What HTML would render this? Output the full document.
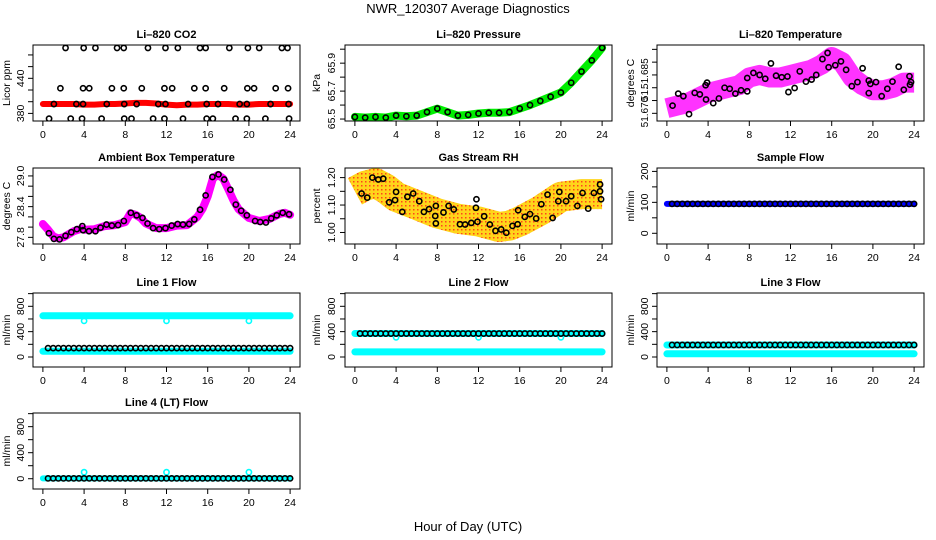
<!DOCTYPE html>
<html><head><meta charset="utf-8"><style>
html,body{margin:0;padding:0;background:#fff;}
svg{display:block;font-family:"Liberation Sans",Arial,sans-serif;}
</style></head><body>
<svg id="chart" width="936" height="540" viewBox="0 0 936 540" xmlns="http://www.w3.org/2000/svg">
<text x="468" y="13" font-size="13" text-anchor="middle">NWR_120307  Average Diagnostics</text>
<text x="468" y="531" font-size="13" text-anchor="middle">Hour of Day (UTC)</text>
<defs>
<pattern id="rhpat" width="4" height="4" patternUnits="userSpaceOnUse"><rect width="4" height="4" fill="#ffd000"/><rect x="1" y="1" width="1.5" height="1.5" fill="#ff3000"/></pattern>
</defs>
</svg>
<script>
// ---------- data ----------
const bandHours=[0,1,2,3,4,5,6,7,8,9,10,11,12,13,14,15,16,17,18,19,20,21,22,23,24];
const halfHours=[0.5,1,1.5,2,2.5,3,3.5,4,4.5,5,5.5,6,6.5,7,7.5,8,8.5,9,9.5,10,10.5,11,11.5,12,12.5,13,13.5,14,14.5,15,15.5,16,16.5,17,17.5,18,18.5,19,19.5,20,20.5,21,21.5,22,22.5,23,23.5,24];
const xTicks=[0,4,8,12,16,20,24];

const co2Band=[396,396,396,396,395,395,396,396,397,398,398,397,395,394,395,395,396,396,396,395,395,396,396,396,396];
const co2TopH=[2.2,3.96,5.1,7.2,7.85,10.2,11.9,13.1,15.25,15.8,18.1,19.9,21.0,23.2,23.75];
const co2TopV=[492,492,492,492,492,492,492,492,492,492,492,492,492,492,492];
const co2MidH=[1.7,3.9,4.5,6.7,7.85,9.6,11.8,12.55,14.7,15.8,17.6,19.85,20.5,22.6,23.8];
const co2MidV=[423,423,423,423,423,423,423,423,423,423,423,423,423,423,423];
const co2BandH=[1.07,3.25,3.9,6.2,7.9,9.1,11.2,11.9,14.1,15.9,17.0,19.1,19.8,22.1,23.85];
const co2BandV=[396,396,396,396,396,396,396,396,396,396,396,396,396,396,396];
const co2LowH=[0.6,2.7,3.8,5.7,7.9,8.6,10.7,11.8,13.6,15.9,16.5,18.7,19.8,21.6,23.9];
const co2LowV=[371,371,371,371,371,371,371,371,371,371,371,371,371,371,371];

const pressure=[65.515,65.51,65.515,65.51,65.525,65.52,65.525,65.55,65.575,65.55,65.525,65.53,65.54,65.545,65.545,65.55,65.575,65.6,65.63,65.66,65.69,65.76,65.84,65.92,66.01];

const liTempBand=[51.672,51.673,51.674,51.676,51.678,51.679,51.680,51.681,51.684,51.685,51.684,51.684,51.685,51.686,51.687,51.689,51.692,51.690,51.684,51.681,51.679,51.679,51.680,51.682,51.682];
const liTempH=[0.55,1.1,1.6,2.15,2.7,3.2,3.76,3.8,3.9,4.5,5.05,5.6,6.1,6.65,7.2,7.8,7.8,8.4,9.0,9.55,10.1,10.6,11.15,11.7,11.8,12.4,12.9,13.5,14.05,14.5,15.1,15.6,15.7,16.35,16.9,17.4,17.95,18.5,19.0,19.6,19.6,19.75,20.3,20.85,21.4,21.9,22.5,23.0,23.55,23.6,23.7];
const liTempV=[51.673,51.6777,51.6767,51.6697,51.678,51.6774,51.681,51.6754,51.682,51.674,51.6758,51.680,51.6796,51.6777,51.679,51.6786,51.6838,51.6858,51.685,51.6835,51.6895,51.6847,51.6841,51.6844,51.6783,51.6799,51.6864,51.6824,51.6832,51.685,51.6912,51.6936,51.688,51.6888,51.6903,51.687,51.6806,51.6822,51.6876,51.6828,51.6779,51.6815,51.6822,51.6767,51.6796,51.6824,51.6882,51.6792,51.6845,51.6812,51.6822];

const ambBandH=[0,0.5,1,1.5,2,3,3.8,4,5,6,7,8,8.5,9,9.5,10,11,12,13,14,15,15.5,16,16.5,17,17.5,18,18.5,19,20,21,22,23,23.5,24];
const ambBandV=[28.06,27.95,27.82,27.78,27.8,27.92,27.97,27.95,27.96,28.02,28.04,28.1,28.27,28.24,28.18,28.07,27.98,27.98,28.03,28.04,28.2,28.36,28.6,28.95,29.02,28.95,28.74,28.52,28.35,28.18,28.12,28.16,28.26,28.28,28.24];
const ambH=[0.58,1.07,1.62,2.2,2.76,3.3,3.83,3.9,4.48,5.1,5.6,6.17,6.7,7.3,7.86,8.54,9.1,9.67,10.16,10.7,11.3,11.9,12.5,13.08,13.6,14.2,14.7,15.26,15.8,16.46,17.05,17.6,18.2,18.73,19.25,19.8,20.6,21.1,21.65,22.17,22.7,23.28,23.9];
const ambV=[27.88,27.77,27.76,27.83,27.9,27.96,28.02,27.94,27.92,27.92,27.99,28.05,28.03,28.04,28.12,28.28,28.23,28.18,28.07,27.98,27.96,27.98,28.03,28.06,28.05,28.06,28.15,28.34,28.62,28.98,29.03,28.93,28.73,28.44,28.32,28.23,28.12,28.1,28.09,28.17,28.23,28.28,28.25];

const rhBandH=[0,1,2,3,4,6,8,10,12,13,14,15,16,18,20,22,24];
const rhBandV=[1.15,1.17,1.18,1.16,1.13,1.10,1.07,1.05,1.04,1.03,1.02,1.025,1.04,1.08,1.13,1.14,1.14];
const rhH=[0.65,1.2,1.7,2.27,2.75,3.33,3.9,4.0,4.6,5.1,5.66,6.25,6.7,7.2,7.8,7.86,7.86,8.6,9.1,9.6,10.2,10.7,11.3,11.75,11.8,11.9,12.55,13.1,13.65,14.2,14.7,15.3,15.8,15.85,16.5,17.0,17.6,18.1,18.7,19.2,19.75,19.85,20.5,21.0,21.6,22.1,22.65,23.2,23.8,23.8,23.9];
const rhV=[1.142,1.127,1.20,1.193,1.196,1.11,1.118,1.148,1.075,1.13,1.142,1.114,1.075,1.085,1.06,1.097,1.033,1.073,1.097,1.084,1.03,1.029,1.035,1.09,1.121,1.039,1.059,1.029,1.006,1.011,0.999,1.024,1.03,1.081,1.057,1.067,1.051,1.103,1.138,1.053,1.114,1.148,1.114,1.132,1.097,1.144,1.087,1.144,1.15,1.175,1.121];

const sampleBand=[95,95];
const sampleBlack=[95,95,95,95,95,95,95,95,95,95,95,95,95,95,95,95,95,95,95,95,95,95,95,95,95,95,95,95,95,95,95,95,95,95,95,95,95,95,95,95,95,95,95,95,95,95,95,95];

const line1Upper=[650,650];
const line1Lower=[90,90];
const line1Black=[140,140,140,140,140,140,140,140,140,140,140,140,140,140,140,140,140,140,140,140,140,140,140,140,140,140,140,140,140,140,140,140,140,140,140,140,140,140,140,140,140,140,140,140,140,140,140,140];
const line2Upper=[370,370];
const line2Lower=[80,80];
const line2Black=[370,370,370,370,370,370,370,370,370,370,370,370,370,370,370,370,370,370,370,370,370,370,370,370,370,370,370,370,370,370,370,370,370,370,370,370,370,370,370,370,370,370,370,370,370,370,370,370];
const line3Upper=[190,190];
const line3Lower=[50,50];
const line3Black=[190,190,190,190,190,190,190,190,190,190,190,190,190,190,190,190,190,190,190,190,190,190,190,190,190,190,190,190,190,190,190,190,190,190,190,190,190,190,190,190,190,190,190,190,190,190,190,190];
const line4Band=[5,5];
const line4Black=[5,5,5,5,5,5,5,5,5,5,5,5,5,5,5,5,5,5,5,5,5,5,5,5,5,5,5,5,5,5,5,5,5,5,5,5,5,5,5,5,5,5,5,5,5,5,5,5];
const spikeHours=[4,12,20];
const line1Spikes=[570,570,570];
const line2Spikes=[310,310,310];
const line4Spikes=[100,100,100];
const bandEnds=[0,24];

// ---------- drawing ----------
const NS='http://www.w3.org/2000/svg';
const svg=document.getElementById('chart');
function add(parent,tag,attrs,name){
  const el=document.createElementNS(NS,tag);
  for(const k in attrs) el.setAttribute(k,attrs[k]);
  
  
  parent.appendChild(el);
  return el;
}
const cols=[{l:33,r:300,yt:10,yl:20},{l:345,r:612,yt:320,yl:331},{l:657,r:924,yt:634,yl:644}];
const rows=[{t:45,b:121},{t:168,b:244},{t:293,b:367},{t:413,b:489}];

function panel(o){
  const c=cols[o.col], rw=rows[o.row];
  const g=add(svg,'g',{},o.name+'-panel');
  const sx=v=>c.l+(v+0.96)/25.92*(c.r-c.l);
  const sy=v=>rw.b-(v-o.ymin)/(o.ymax-o.ymin)*(rw.b-rw.t);
  const t=add(g,'text',{x:(c.l+c.r)/2,y:rw.t-7,'font-size':11,'font-weight':'bold','text-anchor':'middle'},o.name+'-title');
  t.textContent=o.title;
  const yt=add(g,'text',{transform:`translate(${c.yt},${(rw.t+rw.b)/2}) rotate(-90)`,'font-size':10.5,'text-anchor':'middle'},o.name+'-y-axis-title');
  yt.textContent=o.ylab;
  const clipId=o.name+'-clip';
  const cp=add(g,'clipPath',{id:clipId},o.name+'-clip-path');
  add(cp,'rect',{x:c.l,y:rw.t,width:c.r-c.l,height:rw.b-rw.t},o.name+'-clip-rect');
  const marks=add(g,'g',{'clip-path':`url(#${clipId})`},o.name+'-marks');
  o.draw(marks,sx,sy);
  add(g,'rect',{x:c.l,y:rw.t,width:c.r-c.l,height:rw.b-rw.t,fill:'none',stroke:'#000','stroke-width':1},o.name+'-plot-box');
  xTicks.forEach(v=>{
    add(g,'line',{x1:sx(v),x2:sx(v),y1:rw.b,y2:rw.b+5,stroke:'#000'},o.name+'-x-tick');
    const tl=add(g,'text',{x:sx(v),y:rw.b+17,'font-size':10.5,'text-anchor':'middle'},o.name+'-x-tick-label');
    tl.textContent=v;
  });
  o.ticks.forEach(v=>{
    add(g,'line',{x1:c.l-5,x2:c.l,y1:sy(v),y2:sy(v),stroke:'#000'},o.name+'-y-tick');
  });
  o.labels.forEach((s,i)=>{
    const tl=add(g,'text',{transform:`translate(${c.yl+4},${sy(o.labelVals[i])}) rotate(-90)`,'font-size':o.labelSize||10.5,'text-anchor':'middle'},o.name+'-y-tick-label');
    tl.textContent=s;
  });
}
function band(p,sx,sy,H,V,color,w,name,op,cap){
  const pts=H.map((h,i)=>sx(h).toFixed(1)+','+sy(V[i]).toFixed(1)).join(' ');
  add(p,'polyline',{points:pts,fill:'none',stroke:color,'stroke-width':w,'stroke-linecap':cap||'round','stroke-linejoin':'round',opacity:op||1},name);
}
function circles(p,sx,sy,H,V,color,name,r){
  H.forEach((h,i)=>{
    add(p,'circle',{cx:sx(h),cy:sy(V[i]),r:r||2.6,fill:'none',stroke:color,'stroke-width':1.6},name);
  });
}

panel({name:'co2',title:'Li–820 CO2',ylab:'Licor ppm',col:0,row:0,ymin:367,ymax:497,ticks:[380,400,420,440,460,480],labels:['380','440'],labelVals:[380,440],
 draw:(p,sx,sy)=>{band(p,sx,sy,bandHours,co2Band,'#ff0000',6,'co2-band');
  circles(p,sx,sy,co2TopH,co2TopV,'#000','co2-point');circles(p,sx,sy,co2MidH,co2MidV,'#000','co2-point');
  circles(p,sx,sy,co2BandH,co2BandV,'#000','co2-point');circles(p,sx,sy,co2LowH,co2LowV,'#000','co2-point');}});
panel({name:'pressure',title:'Li–820 Pressure',ylab:'kPa',col:1,row:0,ymin:65.486,ymax:66.03,ticks:[65.5,65.6,65.7,65.8,65.9,66.0],labels:['65.5','65.7','65.9'],labelVals:[65.5,65.7,65.9],
 draw:(p,sx,sy)=>{band(p,sx,sy,bandHours,pressure,'#00ee00',8,'pressure-band');circles(p,sx,sy,bandHours,pressure,'#000','pressure-point');}});
panel({name:'li-temp',title:'Li–820 Temperature',ylab:'degrees C',col:2,row:0,ymin:51.667,ymax:51.6967,ticks:[51.670,51.675,51.680,51.685,51.690,51.695],labels:['51.670','51.','51.685'],labelVals:[51.6705,51.6775,51.6855],labelSize:10,
 draw:(p,sx,sy)=>{band(p,sx,sy,bandHours,liTempBand,'#ff00ff',20,'li-temp-cloud',0.8,'butt');circles(p,sx,sy,liTempH,liTempV,'#000','li-temp-point');}});
panel({name:'ambient',title:'Ambient Box Temperature',ylab:'degrees C',col:0,row:1,ymin:27.67,ymax:29.155,ticks:[27.8,28.0,28.2,28.4,28.6,28.8,29.0],labels:['27.8','28.4','29.0'],labelVals:[27.8,28.4,29.0],
 draw:(p,sx,sy)=>{band(p,sx,sy,ambBandH,ambBandV,'#ff00ff',8,'ambient-band');circles(p,sx,sy,ambH,ambV,'#000','ambient-point');}});
panel({name:'rh',title:'Gas Stream RH',ylab:'percent',col:1,row:1,ymin:0.958,ymax:1.235,ticks:[1.00,1.05,1.10,1.15,1.20],labels:['1.00','1.10','1.20'],labelVals:[1.00,1.10,1.20],
 draw:(p,sx,sy)=>{band(p,sx,sy,rhBandH,rhBandV,'url(#rhpat)',30,'rh-cloud',0.9,'butt');circles(p,sx,sy,rhH,rhV,'#000','rh-point');}});
panel({name:'sample-flow',title:'Sample Flow',ylab:'ml/min',col:2,row:1,ymin:-34.6,ymax:211,ticks:[0,50,100,150,200],labels:['0','100','200'],labelVals:[0,100,200],
 draw:(p,sx,sy)=>{band(p,sx,sy,bandEnds,sampleBand,'#0000ff',6,'sample-flow-band');circles(p,sx,sy,halfHours,sampleBlack,'#000','sample-flow-point');}});
const flowTicks=[0,200,400,600,800,1000];
panel({name:'line1',title:'Line 1 Flow',ylab:'ml/min',col:0,row:2,ymin:-158,ymax:1010,ticks:flowTicks,labels:['0','400','800'],labelVals:[0,400,800],
 draw:(p,sx,sy)=>{band(p,sx,sy,bandEnds,line1Upper,'#00ffff',7,'line1-upper-band');band(p,sx,sy,bandEnds,line1Lower,'#00ffff',7,'line1-lower-band');
  circles(p,sx,sy,spikeHours,line1Spikes,'#00ffff','line1-spike');circles(p,sx,sy,halfHours,line1Black,'#000','line1-point');}});
panel({name:'line2',title:'Line 2 Flow',ylab:'ml/min',col:1,row:2,ymin:-158,ymax:1010,ticks:flowTicks,labels:['0','400','800'],labelVals:[0,400,800],
 draw:(p,sx,sy)=>{band(p,sx,sy,bandEnds,line2Upper,'#00ffff',7,'line2-upper-band');band(p,sx,sy,bandEnds,line2Lower,'#00ffff',7,'line2-lower-band');
  circles(p,sx,sy,spikeHours,line2Spikes,'#00ffff','line2-spike');circles(p,sx,sy,halfHours,line2Black,'#000','line2-point');}});
panel({name:'line3',title:'Line 3 Flow',ylab:'ml/min',col:2,row:2,ymin:-158,ymax:1010,ticks:flowTicks,labels:['0','400','800'],labelVals:[0,400,800],
 draw:(p,sx,sy)=>{band(p,sx,sy,bandEnds,line3Upper,'#00ffff',7,'line3-upper-band');band(p,sx,sy,bandEnds,line3Lower,'#00ffff',7,'line3-lower-band');
  circles(p,sx,sy,halfHours,line3Black,'#000','line3-point');}});
panel({name:'line4',title:'Line 4 (LT) Flow',ylab:'ml/min',col:0,row:3,ymin:-158,ymax:1010,ticks:flowTicks,labels:['0','400','800'],labelVals:[0,400,800],
 draw:(p,sx,sy)=>{band(p,sx,sy,bandEnds,line4Band,'#00ffff',6,'line4-band');
  circles(p,sx,sy,spikeHours,line4Spikes,'#00ffff','line4-spike');circles(p,sx,sy,halfHours,line4Black,'#000','line4-point');}});
</script>
</body></html>
